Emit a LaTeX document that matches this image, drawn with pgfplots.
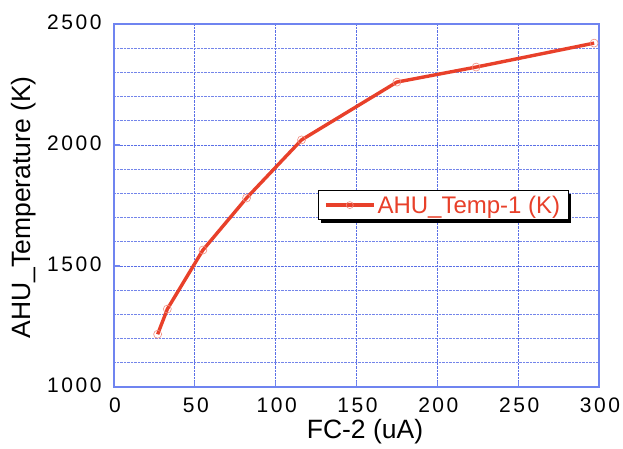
\documentclass[border=0pt]{standalone}
\usepackage{pgfplots}
\pgfplotsset{compat=1.18}
\usetikzlibrary{shadows}
\usepackage{fontspec}
\setmainfont{Liberation Sans}
\newfontfamily\tickfont[LetterSpace=12]{Liberation Sans}
\definecolor{axblue}{HTML}{6F84F0}
\definecolor{gridblue}{HTML}{5A6FE6}
\definecolor{lred}{HTML}{E8402A}
\definecolor{mred}{HTML}{F08C80}
\makeatletter
\tikzset{no preactions/.code={\let\tikz@preactions\pgfutil@empty}}
\makeatother
\begin{document}
\begin{tikzpicture}
\useasboundingbox (0,0) rectangle (623pt,449pt);
\begin{axis}[
 at={(114pt,62pt)}, anchor=south west,
 scale only axis, width=485pt, height=363pt,
 xmin=0, xmax=300, ymin=1000, ymax=2500,
 xtick={0,50,...,300}, ytick={1000,1500,2000,2500},
 minor ytick={1100,1200,...,2400},
 grid=both,
 major grid style={gridblue, densely dotted, line width=0.7pt},
 minor grid style={gridblue!85, densely dotted, line width=0.7pt},
 axis line style={axblue, line width=1.2pt},
 tick style={axblue, line width=1.2pt},
 major tick length=6pt, minor tick length=0pt,
 tick align=inside,
 xtick pos=bottom, ytick pos=left,
 /pgf/number format/assume math mode=true,
 /pgf/number format/1000 sep={},
 tick label style={font=\tickfont\fontsize{21}{25}\selectfont, black},
 xticklabel style={yshift=-7pt, xshift=1pt},
 yticklabel style={xshift=-9pt, yshift=2pt},
 label style={font=\fontsize{26.5}{30}\selectfont, black},
 xlabel={FC-2 (uA)}, ylabel={AHU\_Temperature (K)},
 xlabel style={at={(axis description cs:0.5175,-0.124)}, anchor=center},
 ylabel style={at={(axis description cs:-0.1856,0.495)}, anchor=center},
 legend style={at={(axis cs:126,1813)}, anchor=north west,
  draw=black, line width=0.8pt, fill=white,
  font=\fontsize{24}{28}\selectfont, text=lred,
  inner xsep=6pt, inner ysep=3pt,
  drop shadow={shadow xshift=3pt, shadow yshift=-3pt, fill=black, opacity=1}},
 legend image code/.code={
  \draw[no preactions, lred, line width=3.4pt] (0pt,0pt) -- (48pt,0pt);
  \draw[no preactions, mred, line width=0.6pt] (24pt,0pt) circle (3.5pt);},
]
\addplot[lred, line width=3.4pt, mark=o, mark size=4pt,
 mark options={mred, line width=0.6pt}]
 coordinates {(27,1218) (33,1322) (55,1566) (82,1781) (116,2021) (175,2260) (224,2322) (297,2421)};
\addlegendentry{AHU\_Temp-1 (K)}
\end{axis}
\end{tikzpicture}
\end{document}
